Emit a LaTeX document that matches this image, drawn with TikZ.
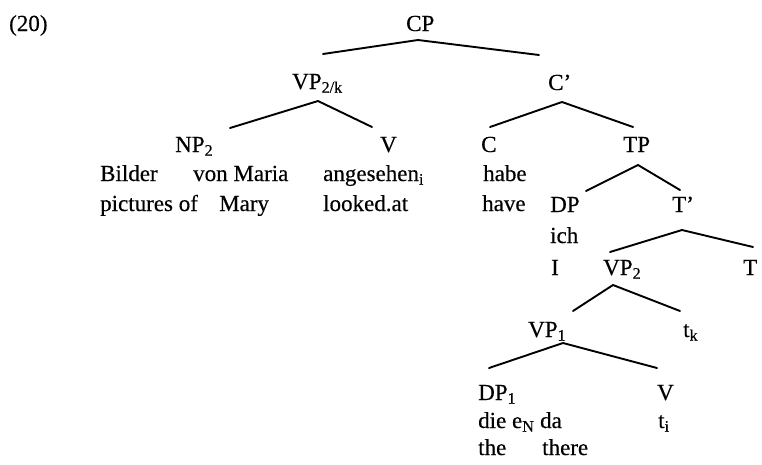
\documentclass[tikz,border=0pt]{standalone}
\usepackage{fontspec}
\setmainfont[FakeBold=0.4]{Liberation Serif}
\begin{document}
\begin{tikzpicture}[x=1pt,y=-1pt,
  lbl/.style={anchor=base west,inner sep=0pt,font=\fontsize{23}{27}\selectfont},
  edge/.style={line width=1.9pt,line cap=round}]
\useasboundingbox (0,0) rectangle (762,464);
% labels
\node[lbl] (ex) at (9,31) {(20)};
\node[lbl] (CP) at (406,31) {CP};
\node[lbl] (VPk) at (292,89) {VP\textsubscript{2/k}};
\node[lbl] (Cb) at (548,90) {C’};
\node[lbl] (NP) at (175,152) {NP\textsubscript{2}};
\node[lbl] (Vh) at (380,152) {V};
\node[lbl] (C) at (481,152) {C};
\node[lbl] (TP) at (623,152) {TP};
\node[lbl] (bilder) at (100,181) {Bilder};
\node[lbl] (vonmaria) at (193,181) {von Maria};
\node[lbl] (anges) at (323,181) {angesehen\textsubscript{i}};
\node[lbl] (habe) at (483,181) {habe};
\node[lbl] (pictof) at (100,211) {pictures of};
\node[lbl] (mary) at (219,211) {Mary};
\node[lbl] (looked) at (323,211) {looked.at};
\node[lbl] (have) at (482,211) {have};
\node[lbl] (DP) at (550,212) {DP};
\node[lbl] (Tb) at (672,212) {T’};
\node[lbl] (ich) at (550,243) {ich};
\node[lbl] (I) at (551,275) {I};
\node[lbl] (VPtwo) at (603,275) {VP\textsubscript{2}};
\node[lbl] (T) at (743,275) {T};
\node[lbl] (VPone) at (528,337) {VP\textsubscript{1}};
\node[lbl] (tk) at (683,337) {t\textsubscript{k}};
\node[lbl] (DPone) at (478,400) {DP\textsubscript{1}};
\node[lbl] (Vl) at (657,400) {V};
\node[lbl] (die) at (478,428) {die e\textsubscript{N} da};
\node[lbl] (ti) at (658,428) {t\textsubscript{i}};
\node[lbl] (the) at (478,455) {the};
\node[lbl] (there) at (542,455) {there};
% branch points
\coordinate (CP-a) at (418,40);
\coordinate (VPk-t) at (323,54);
\coordinate (Cb-t) at (539,55);
\coordinate (VPk-a) at (318,101);
\coordinate (NP-t) at (230,128);
\coordinate (Vh-t) at (372,127);
\coordinate (Cb-a) at (562,102);
\coordinate (C-t) at (490,127);
\coordinate (TP-t) at (633,127);
\coordinate (TP-a) at (638,165);
\coordinate (DP-t) at (586,191);
\coordinate (Tb-t) at (680,190);
\coordinate (Tb-a) at (682,230);
\coordinate (VPtwo-t) at (610,252);
\coordinate (T-t) at (753,247);
\coordinate (VPtwo-a) at (613,285);
\coordinate (VPone-t) at (573,311);
\coordinate (tk-t) at (680,311);
\coordinate (VPone-a) at (563,343);
\coordinate (DPone-t) at (489,368);
\coordinate (Vl-t) at (657,368);
% edges
\draw[edge] (VPk-t) -- (CP-a) -- (Cb-t);
\draw[edge] (NP-t) -- (VPk-a) -- (Vh-t);
\draw[edge] (C-t) -- (Cb-a) -- (TP-t);
\draw[edge] (DP-t) -- (TP-a) -- (Tb-t);
\draw[edge] (VPtwo-t) -- (Tb-a) -- (T-t);
\draw[edge] (VPone-t) -- (VPtwo-a) -- (tk-t);
\draw[edge] (DPone-t) -- (VPone-a) -- (Vl-t);
\end{tikzpicture}
\end{document}
